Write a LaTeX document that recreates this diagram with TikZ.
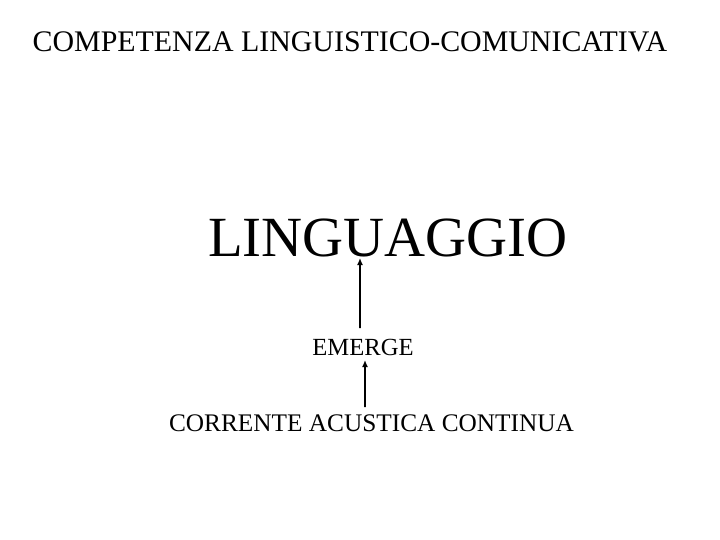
\documentclass[tikz,border=0pt]{standalone}
\usepackage{fontspec}
\setmainfont{Liberation Serif}
\usetikzlibrary{arrows.meta}

\begin{document}
\begin{tikzpicture}[x=1bp, y=-1bp,
    txt/.style={inner sep=0pt, anchor=base},
    up/.style={-{Latex[length=7bp, width=6bp]}, line width=1.6bp}]
  \useasboundingbox (0,0) rectangle (720,540);

  \node[txt, font=\fontsize{30}{36}\selectfont] (title) at (350,52)
    {COMPETENZA LINGUISTICO-COMUNICATIVA};
  \node[txt, font=\fontsize{57}{66}\selectfont] (ling) at (388,257) {LINGUAGGIO};
  \node[txt, font=\fontsize{24.7}{30}\selectfont] (emerge) at (363,355) {EMERGE};
  \node[txt, font=\fontsize{25.4}{30}\selectfont] (flow) at (371.5,431)
    {CORRENTE ACUSTICA CONTINUA};

  % freccia in basso: dalla corrente a emerge
  \draw[up] ([xshift=-6.5bp, yshift=24bp]flow.base)
    -- ([xshift=2bp, yshift=-5bp]emerge.base);
  % freccia in alto: da emerge al linguaggio
  \draw[up] ([xshift=-3bp, yshift=27bp]emerge.base)
    -- ([xshift=-28bp, yshift=-1bp]ling.base);
\end{tikzpicture}
\end{document}
